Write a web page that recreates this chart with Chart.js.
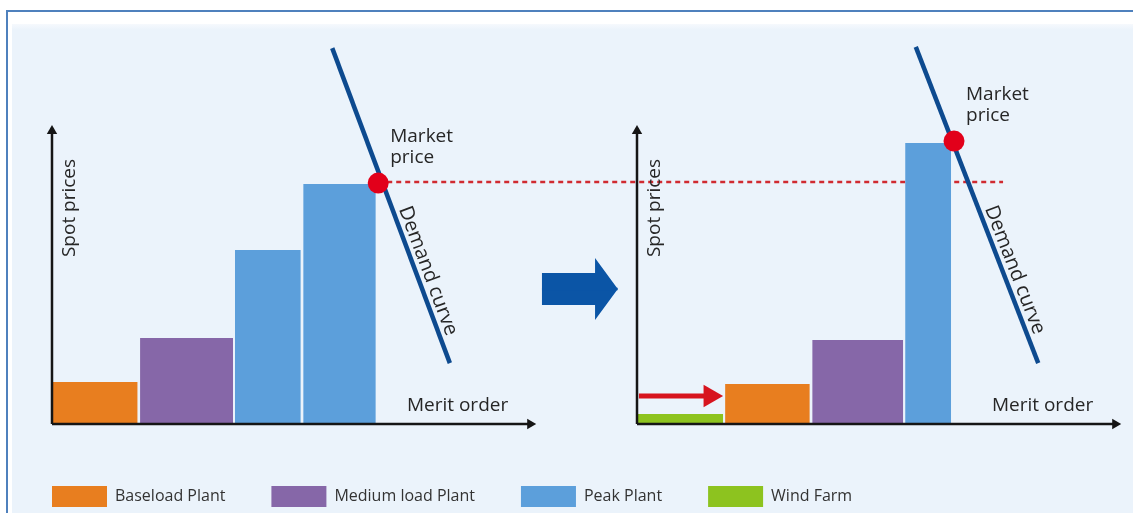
<!DOCTYPE html>
<html>
<head>
<meta charset="utf-8">
<title>Merit order effect</title>
<script src="https://cdn.jsdelivr.net/npm/chart.js@4.4.1/dist/chart.umd.min.js"></script>
<style>
html, body { margin: 0; padding: 0; background: #fff; }
#frame { position: absolute; left: 6px; top: 10px; width: 1127px; height: 503px;
  border-top: 2px solid #4f81bd; border-left: 2px solid #4f81bd; background: #fff; }
#panel { position: absolute; left: 12px; top: 24px; width: 1121px; height: 489px;
  background: linear-gradient(#f6f9fd 0px, #ebf3fb 6px); }
#wrap { position: absolute; left: 0; top: 0; width: 1133px; height: 513px; }
</style>
</head>
<body>
<div id="frame"></div>
<div id="panel"></div>
<div id="wrap"><canvas id="myChart" width="1133" height="513"></canvas></div>
<script>
// plant types and colours
const plants = ['Baseload Plant', 'Medium load Plant', 'Peak Plant', 'Wind Farm'];
const plantColors = ['#e87e1f', '#8667a8', '#5c9fdb', '#8dc31f'];

// before: merit order blocks (capacity from / to) and their price
const beforeFrom = [0, 18.2, 37.8, 51.9];
const beforeTo = [17.7, 37.4, 51.4, 66.9];
const beforePrice = [14, 28.7, 58, 80];
const beforePlant = [0, 1, 2, 2];

// after: the wind farm comes in at the front of the merit order
const afterFrom = [0, 18.2, 36.2, 55.4];
const afterTo = [17.8, 35.7, 55.0, 64.9];
const afterPrice = [3.3, 13.3, 28, 93.7];
const afterPlant = [3, 0, 1, 2];

// demand curve end points (capacity, price)
const demandBeforeX = [57.9, 82.2];
const demandBeforeY = [125.3, 20.3];
const demandAfterX = [57.6, 82.9];
const demandAfterY = [125.7, 20.3];

// market price points [before, after]
const marketX = [67.4, 65.5];
const marketY = [80.3, 94.3];

// old price carried over to the right panel (left panel units)
const oldPriceX = [67.4, 196.5];
const oldPriceY = 80.7;

// wind shifts the merit order to the right
const windShiftX = [0.4, 15.1];
const windShiftY = 9.3;

const panels = [
    {x: 'xL', from: beforeFrom, to: beforeTo, price: beforePrice, plant: beforePlant,
     dX: demandBeforeX, dY: demandBeforeY, axisEnd: 98.8},
    {x: 'xR', from: afterFrom, to: afterTo, price: afterPrice, plant: afterPlant,
     dX: demandAfterX, dY: demandAfterY, axisEnd: 98.8}
];

function block(from, to, price) {
    return [{x: from, y: 0}, {x: from, y: price}, {x: to, y: price}, {x: to, y: 0}];
}

const datasets = [];
const seen = {};

panels.forEach(function (p, k) {
    // bars
    p.from.forEach(function (f, i) {
        const t = p.plant[i];
        datasets.push({
            label: plants[t],
            xAxisID: p.x,
            data: block(f, p.to[i], p.price[i]),
            backgroundColor: plantColors[t],
            borderWidth: 0,
            pointRadius: 0,
            fill: 'origin',
            order: 5,
            inLegend: !seen[t]
        });
        seen[t] = true;
    });
    // axes with arrow heads
    datasets.push({
        label: 'x axis', xAxisID: p.x,
        data: [{x: 0, y: 0}, {x: p.axisEnd, y: 0}],
        borderColor: '#151515', borderWidth: 2.5,
        pointStyle: 'triangle', pointRadius: [0, 6], pointRotation: [0, 90],
        pointBackgroundColor: '#151515', pointBorderWidth: 0,
        order: 2
    });
    datasets.push({
        label: 'y axis', xAxisID: p.x,
        data: [{x: 0, y: 0}, {x: 0, y: 97.7}],
        borderColor: '#151515', borderWidth: 2.5,
        pointStyle: 'triangle', pointRadius: [0, 6], pointRotation: [0, 0],
        pointBackgroundColor: '#151515', pointBorderWidth: 0,
        order: 2
    });
    // demand curve
    datasets.push({
        label: 'Demand curve', xAxisID: p.x,
        data: [{x: p.dX[0], y: p.dY[0]}, {x: p.dX[1], y: p.dY[1]}],
        borderColor: '#0d4a8f', borderWidth: 4.5, borderCapStyle: 'butt',
        pointRadius: 0,
        order: 1
    });
    // market price
    datasets.push({
        label: 'Market price', xAxisID: p.x,
        data: [{x: marketX[k], y: marketY[k]}],
        showLine: false,
        pointRadius: 10.5, pointBackgroundColor: '#e2001a', pointBorderWidth: 0,
        order: 0
    });
});

// dashed old price line
datasets.push({
    label: 'old price', xAxisID: 'xL',
    data: [{x: oldPriceX[0], y: oldPriceY}, {x: oldPriceX[1], y: oldPriceY}],
    borderColor: '#d02a30', borderWidth: 2.5, borderDash: [5, 4],
    pointRadius: 0,
    order: 6
});

// red shift arrow in the right panel
datasets.push({
    label: 'shift', xAxisID: 'xR',
    data: [{x: windShiftX[0], y: windShiftY}, {x: windShiftX[1], y: windShiftY}],
    borderColor: '#d7141e', borderWidth: 5,
    pointStyle: 'triangle', pointRadius: [0, 13], pointRotation: [0, 90],
    pointBackgroundColor: '#d7141e', pointBorderWidth: 0,
    order: 2
});

// big blue arrow between the panels, two halves filled to its middle
const arrow = {x0: 101.2, x1: 112.2, tip: 116.9, mid: 45, body: 5.3, head: 10.3};
[1, -1].forEach(function (s) {
    datasets.push({
        label: 'arrow', xAxisID: 'xL',
        data: [
            {x: arrow.x0, y: arrow.mid + s * arrow.body},
            {x: arrow.x1, y: arrow.mid + s * arrow.body},
            {x: arrow.x1, y: arrow.mid + s * arrow.head},
            {x: arrow.tip, y: arrow.mid}
        ],
        backgroundColor: '#0b55a6', borderWidth: 0, pointRadius: 0,
        fill: {value: arrow.mid - s * 0.4},
        order: 5
    });
});

// texts drawn on the scales
const textPlugin = {
    id: 'texts',
    afterDatasetsDraw(chart) {
        const ctx = chart.ctx;
        const yS = chart.scales.y;
        ctx.save();
        ctx.fillStyle = '#262626';
        ctx.font = '19px "Open Sans"';
        panels.forEach(function (p, k) {
            const xS = chart.scales[p.x];
            const ox = xS.getPixelForValue(0);
            const oy = yS.getPixelForValue(0);
            const tip = xS.getPixelForValue(p.axisEnd);
            // y axis title
            ctx.save();
            ctx.translate(ox + 18, yS.getPixelForValue(72));
            ctx.rotate(-Math.PI / 2);
            ctx.textAlign = 'center';
            ctx.textBaseline = 'middle';
            ctx.fillText('Spot prices', 0, 0);
            ctx.restore();
            // x axis title
            ctx.textAlign = 'right';
            ctx.textBaseline = 'alphabetic';
            ctx.fillText('Merit order', tip - 22, oy - 13);
            // market price
            const mx = xS.getPixelForValue(marketX[k]);
            const my = yS.getPixelForValue(marketY[k]);
            ctx.textAlign = 'left';
            ctx.fillText('Market', mx + 12, my - 41);
            ctx.fillText('price', mx + 12, my - 20);
            // demand curve label along the line
            const x0 = xS.getPixelForValue(p.dX[0]), y0 = yS.getPixelForValue(p.dY[0]);
            const x1 = xS.getPixelForValue(p.dX[1]), y1 = yS.getPixelForValue(p.dY[1]);
            ctx.save();
            ctx.translate((x0 + x1) / 2, (y0 + y1) / 2);
            ctx.rotate(Math.atan2(y1 - y0, x1 - x0));
            ctx.font = '20px "Open Sans"';
            ctx.fillText('Demand curve', 6, -6);
            ctx.restore();
        });
        ctx.restore();
    }
};

const config = {
    type: 'line',
    data: {datasets: datasets},
    options: {
        responsive: false,
        animation: false,
        events: [],
        layout: {autoPadding: false, padding: {left: 6, right: 0, top: 0, bottom: -4}},
        plugins: {
            legend: {
                position: 'bottom',
                align: 'start',
                labels: {
                    boxWidth: 55, boxHeight: 21, padding: 46,
                    color: '#333',
                    font: {family: '"Open Sans"', size: 16},
                    filter: function (item, data) {
                        return data.datasets[item.datasetIndex].inLegend === true;
                    }
                }
            },
            tooltip: {enabled: false}
        },
        scales: {
            xL: {type: 'linear', display: false, min: -9.504, max: 223.347},
            xR: {type: 'linear', display: false, min: -130.372, max: 102.479},
            y: {type: 'linear', display: false, min: -5.333, max: 141.333}
        }
    },
    plugins: [textPlugin]
};

const myChart = new Chart(document.getElementById('myChart'), config);
</script>
</body>
</html>
